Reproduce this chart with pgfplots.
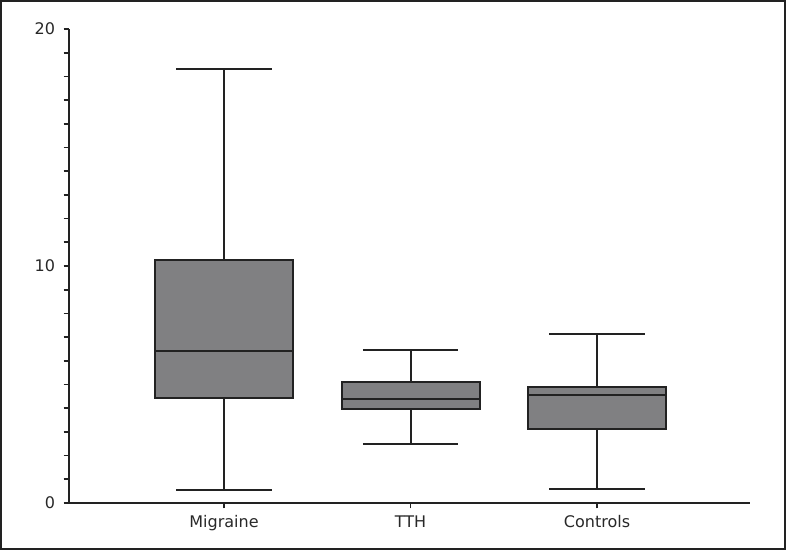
\documentclass[border=0pt]{standalone}
\usepackage{pgfplots}
\pgfplotsset{compat=1.18}
\usepgfplotslibrary{statistics}
\usepackage{fontspec}
\setmainfont{DejaVu Sans}
\definecolor{boxgray}{RGB}{128,128,130}
\definecolor{ink}{RGB}{34,34,34}
\definecolor{txt}{RGB}{40,40,40}
\begin{document}
\begin{tikzpicture}
\begin{axis}[
  at={(0,0)}, anchor=south west,
  scale only axis,
  width=510.75pt, height=355.5pt,
  xmin=0.169, xmax=3.82,
  ymin=0, ymax=20,
  axis x line*=bottom, axis y line*=left,
  axis line style={-, line width=1.5pt, color=ink},
  tick style={line width=1.3pt, color=ink},
  tick align=outside,
  major tick length=4pt, minor tick length=4pt,
  xtick={1,2,3},
  xticklabels={Migraine, TTH, Controls},
  ytick={0,10,20},
  minor ytick={1,2,3,4,5,6,7,8,9,11,12,13,14,15,16,17,18,19},
  tick label style={font=\fontsize{12}{14}\selectfont, color=txt},
  yticklabel style={xshift=-3pt},
  xticklabel style={yshift=-2pt},
  /pgf/number format/assume math mode=true,
  boxplot/draw direction=y,
  boxplot/every box/.style={fill=boxgray, draw=ink, line width=1.5pt},
  boxplot/every whisker/.style={draw=ink, line width=1.5pt},
  boxplot/every median/.style={draw=ink, line width=1.5pt},
  clip=false,
]
\addplot[boxplot prepared={draw position=1, lower whisker=0.55, lower quartile=4.43, median=6.4, upper quartile=10.25, upper whisker=18.3, box extend=0.74, whisker extend=0.51}, draw=ink] coordinates {};
\addplot[boxplot prepared={draw position=2, lower whisker=2.48, lower quartile=3.95, median=4.37, upper quartile=5.12, upper whisker=6.46, box extend=0.74, whisker extend=0.51}, draw=ink] coordinates {};
\addplot[boxplot prepared={draw position=3, lower whisker=0.58, lower quartile=3.14, median=4.56, upper quartile=4.88, upper whisker=7.13, box extend=0.74, whisker extend=0.51}, draw=ink] coordinates {};
\end{axis}
\draw[line width=1.5pt, color=ink] (-51pt,-34.5pt) rectangle (537pt,376.5pt);
\end{tikzpicture}
\end{document}
